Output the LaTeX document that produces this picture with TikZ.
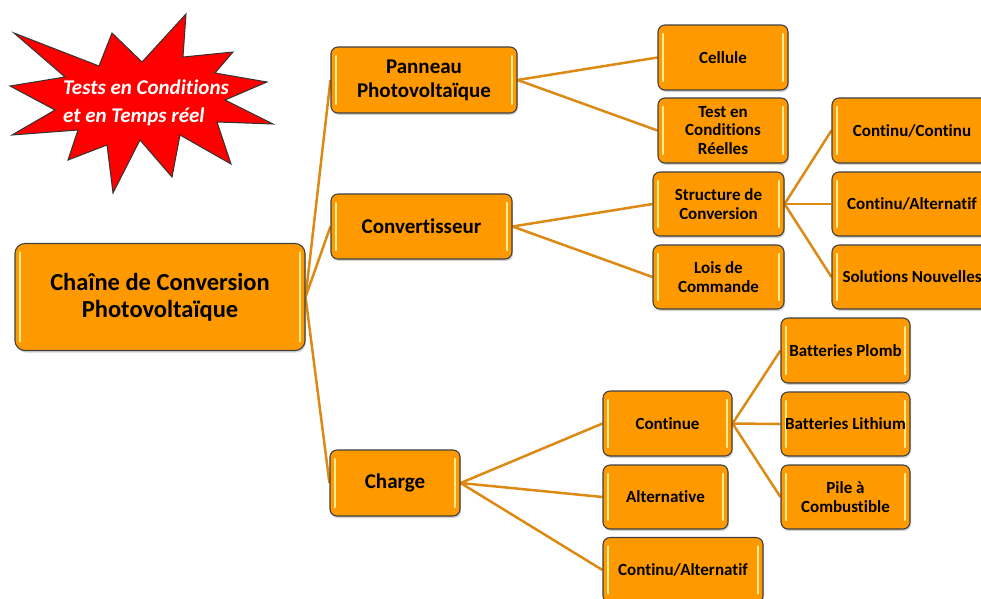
\documentclass[tikz,border=0pt]{standalone}
\usepackage{fontspec}
\setmainfont{Carlito}[Ligatures=NoCommon]
\usetikzlibrary{shadows,backgrounds}

\definecolor{boxorange}{RGB}{255,153,0}
\definecolor{linkorange}{RGB}{220,138,20}
\definecolor{hilite}{RGB}{255,238,150}
\definecolor{burstred}{RGB}{255,0,0}

\begin{document}
\begin{tikzpicture}[x=1pt,y=-1pt,
  box/.style={draw=black!75, line width=1.1pt, fill=boxorange, rounded corners=7pt,
    inner sep=0pt, align=center, font=\bfseries\fontsize{17}{18.5}\selectfont,
    drop shadow={shadow xshift=1pt,shadow yshift=-2pt,opacity=.35},
    path picture={
      \draw[hilite,line width=2.2pt,line cap=round]
        ([xshift=5pt,yshift=-9pt]path picture bounding box.north west) --
        ([xshift=5pt,yshift=9pt]path picture bounding box.south west);
      \draw[hilite,line width=2.2pt,line cap=round]
        ([xshift=-5pt,yshift=-9pt]path picture bounding box.north east) --
        ([xshift=-5pt,yshift=9pt]path picture bounding box.south east);
    }},
  midbox/.style={box, font=\bfseries\fontsize{21}{24}\selectfont},
  rootbox/.style={box, font=\bfseries\fontsize{24.5}{27}\selectfont, rounded corners=10pt},
  link/.style={linkorange, line width=2.5pt},
  bursttext/.style={text=white, align=left, font=\bfseries\itshape\fontsize{21}{28}\selectfont}]

\useasboundingbox (0,0) rectangle (981,598);

% starburst
\draw[fill=burstred, draw=black!80, line width=1pt, line join=miter]
  (14,33) -- (99,66) -- (112,33) -- (142,62) -- (186,14) -- (183,57) -- (233,52)
  -- (215,73) -- (267,82) -- (225,100) -- (273,124) -- (217,122) -- (231,164)
  -- (180,135) -- (172,177) -- (140,140) -- (113,193) -- (107,145) -- (68,160)
  -- (78,130) -- (12,135) -- (55,110) -- (10,86) -- (65,77) -- cycle;
\node[bursttext] (burst) at (146,103) {Tests en Conditions\\et en Temps réel};

% level 0 and 1
\node[rootbox, minimum width=290pt, minimum height=107pt] (root) at (160,297) {Chaîne de Conversion\\Photovoltaïque};
\node[midbox, minimum width=186pt, minimum height=66pt] (pan) at (424,80) {Panneau\\Photovoltaïque};
\node[midbox, minimum width=181pt, minimum height=65pt] (conv) at (421.5,226.5) {Convertisseur};
\node[midbox, minimum width=130pt, minimum height=66pt] (charge) at (395,483) {Charge};

% level 2
\node[box, minimum width=130pt, minimum height=65pt] (cell) at (723,57.5) {Cellule};
\node[box, minimum width=130pt, minimum height=65pt] (testc) at (723,130.5) {Test en\\Conditions\\Réelles};
\node[box, minimum width=131pt, minimum height=64pt] (struct) at (718.5,204) {Structure de\\Conversion};
\node[box, minimum width=131pt, minimum height=64pt] (lois) at (718.5,277) {Lois de\\Commande};
\node[box, minimum width=129pt, minimum height=65pt] (cont) at (667.5,423.5) {Continue};
\node[box, minimum width=125pt, minimum height=64pt] (alt) at (665.5,497) {Alternative};
\node[box, minimum width=160pt, minimum height=65pt] (contalt) at (683,570) {Continu/Alternatif};

% level 3
\node[box, minimum width=160pt, minimum height=65pt] (cc) at (912,130.5) {Continu/Continu};
\node[box, minimum width=160pt, minimum height=64pt] (ca) at (912,204) {Continu/Alternatif};
\node[box, minimum width=160pt, minimum height=64pt] (sol) at (912,277) {Solutions Nouvelles};
\node[box, minimum width=129pt, minimum height=65pt] (plomb) at (845.5,350.5) {Batteries Plomb};
\node[box, minimum width=129pt, minimum height=64pt] (lith) at (845.5,424) {Batteries Lithium};
\node[box, minimum width=129pt, minimum height=64pt] (pile) at (845.5,497) {Pile à\\Combustible};

% links
\begin{scope}[on background layer]
\draw[link] (root.east) -- (pan.west);
\draw[link] (root.east) -- (conv.west);
\draw[link] (root.east) -- (charge.west);
\draw[link] (pan.east) -- (cell.west);
\draw[link] (pan.east) -- (testc.west);
\draw[link] (conv.east) -- (struct.west);
\draw[link] (conv.east) -- (lois.west);
\draw[link] (struct.east) -- (cc.west);
\draw[link] (struct.east) -- (ca.west);
\draw[link] (struct.east) -- (sol.west);
\draw[link] (charge.east) -- (cont.west);
\draw[link] (charge.east) -- (alt.west);
\draw[link] (charge.east) -- (contalt.west);
\draw[link] (cont.east) -- (plomb.west);
\draw[link] (cont.east) -- (lith.west);
\draw[link] (cont.east) -- (pile.west);
\end{scope}
\end{tikzpicture}
\end{document}
